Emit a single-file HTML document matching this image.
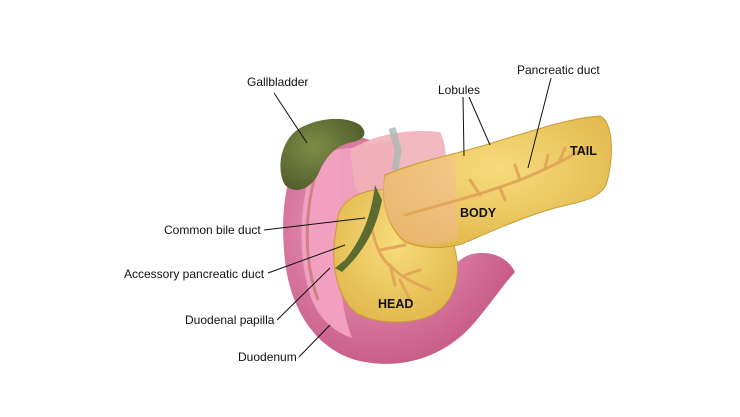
<!DOCTYPE html>
<html><head><meta charset="utf-8"><style>
html,body{margin:0;padding:0;background:#fff;}
svg{display:block;}
text{font-family:"Liberation Sans",Arial,sans-serif;font-size:12px;fill:#111;}
.b{font-weight:bold;font-size:12.5px;}
</style></head><body>
<svg width="740" height="417" viewBox="0 0 740 417" xmlns="http://www.w3.org/2000/svg">
<defs>
<radialGradient id="pk" cx="0.4" cy="0.4" r="0.7"><stop offset="0" stop-color="#f2a6c4"/><stop offset="1" stop-color="#c2527f"/></radialGradient>
<radialGradient id="yl" cx="0.5" cy="0.4" r="0.7"><stop offset="0" stop-color="#f7dc7c"/><stop offset="1" stop-color="#dfb447"/></radialGradient>
<radialGradient id="gr" cx="0.4" cy="0.4" r="0.7"><stop offset="0" stop-color="#7e8c48"/><stop offset="1" stop-color="#4e5a28"/></radialGradient>
</defs>
<!-- duodenum -->
<path d="M318,138 C290,150 280,200 284,250 C288,315 322,355 365,362 C410,370 450,352 475,322 C492,302 503,285 515,272 C508,258 492,250 472,254 C450,260 442,288 425,305 C405,318 375,318 355,310 C340,290 338,240 345,200 C350,170 360,150 370,140 C352,134 333,133 318,138 Z" fill="url(#pk)"/>
<path d="M312,165 C298,210 298,262 312,300 C320,320 335,332 352,338 C338,300 335,245 345,198 C350,175 358,160 368,150 C345,145 322,150 312,165 Z" fill="#f1a0bf"/>
<path d="M340,150 L395,140 L400,215 L340,240 Z" fill="#ee9fbd"/>
<path d="M316,172 C304,215 304,262 318,300" stroke="#a8664a" stroke-width="3" fill="none" opacity="0.5"/>
<!-- upper pink stomach part -->
<path d="M350,150 C370,136 405,128 440,132 C450,150 448,190 430,212 C395,220 370,205 355,188 Z" fill="#f1b0b8" opacity="0.9"/>
<!-- pancreas head -->
<path d="M338,215 C345,195 372,185 400,192 C432,198 452,225 455,250 C462,275 455,302 432,315 C410,325 378,324 358,314 C340,302 332,272 334,245 Z" fill="url(#yl)" stroke="#c99a3a" stroke-width="1"/>
<!-- body & tail -->
<path d="M385,175 C420,160 455,155 495,142 C535,130 570,118 600,116 C614,122 614,160 606,185 C598,200 578,202 555,208 C520,218 490,232 462,244 C440,250 420,248 405,242 C388,228 380,200 385,175 Z" fill="url(#yl)" stroke="#c99a3a" stroke-width="1"/>
<path d="M382,178 C410,166 435,160 455,155 L458,238 C440,246 420,246 405,240 C388,226 379,200 382,178 Z" fill="#f4b8a0" opacity="0.45"/>
<!-- ducts -->
<g stroke="#e2a85a" stroke-width="3" fill="none" stroke-linecap="round">
<path d="M405,215 C440,205 480,195 520,180 C545,170 565,160 585,148"/>
<path d="M480,195 L470,180 M520,180 L515,165 M545,168 L548,155 M500,188 L505,200 M560,160 L565,148"/>
<path d="M370,220 C375,245 380,260 395,270 C405,280 420,285 430,290"/>
<path d="M380,250 L405,245 M390,265 L395,285 M405,275 L420,270 M400,280 L410,300"/>
</g>
<!-- bile duct -->
<path d="M375,185 C372,210 365,235 345,260 L335,268 L342,272 C360,255 375,235 382,200 Z" fill="#5d6b30"/>
<!-- vessel -->
<path d="M392,128 L398,150 L395,170" stroke="#a9b8b8" stroke-width="7" fill="none" opacity="0.8"/>
<!-- gallbladder -->
<path d="M300,128 C318,118 345,115 360,125 C368,132 365,140 352,142 C340,145 330,150 320,170 C312,190 295,195 285,185 C276,170 280,140 300,128 Z" fill="url(#gr)"/>
<!-- leader lines -->
<g stroke="#111" stroke-width="1" fill="none">
<line x1="274" y1="93" x2="307" y2="143"/>
<line x1="463" y1="97" x2="464" y2="156"/>
<line x1="469" y1="97" x2="490" y2="145"/>
<line x1="551" y1="78" x2="528" y2="168"/>
<line x1="264" y1="230" x2="365" y2="218"/>
<line x1="268" y1="273" x2="345" y2="245"/>
<line x1="277" y1="320" x2="330" y2="268"/>
<line x1="299" y1="357" x2="330" y2="325"/>
</g>
<text x="247" y="86">Gallbladder</text>
<text x="438" y="94">Lobules</text>
<text x="517" y="74">Pancreatic duct</text>
<text x="164" y="234">Common bile duct</text>
<text x="124" y="278">Accessory pancreatic duct</text>
<text x="185" y="324">Duodenal papilla</text>
<text x="238" y="361">Duodenum</text>
<text class="b" x="378" y="308">HEAD</text>
<text class="b" x="460" y="217">BODY</text>
<text class="b" x="570" y="155">TAIL</text>
</svg>
</body></html>
